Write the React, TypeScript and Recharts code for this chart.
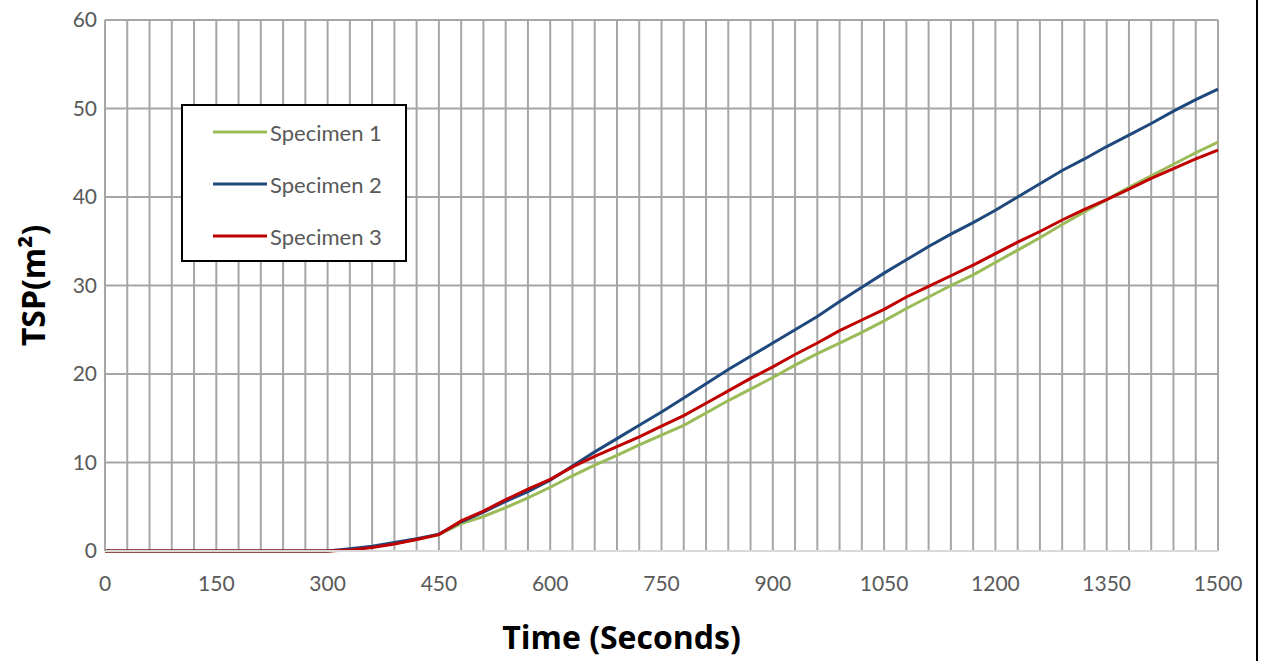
import React from 'react';
import { LineChart, Line, XAxis, YAxis, CartesianGrid, Legend } from 'recharts';

// time in seconds, one point every 30 s
const times = [
  0, 30, 60, 90, 120, 150, 180, 210, 240, 270, 300, 330, 360, 390, 420, 450, 480,
  510, 540, 570, 600, 630, 660, 690, 720, 750, 780, 810, 840, 870, 900, 930, 960,
  990, 1020, 1050, 1080, 1110, 1140, 1170, 1200, 1230, 1260, 1290, 1320, 1350,
  1380, 1410, 1440, 1470, 1500,
];

const specimen1 = [
  0, 0, 0, 0, 0, 0, 0, 0, 0, 0, 0, 0.15, 0.45, 0.85, 1.3, 1.85, 3.1, 3.9, 4.9, 6.0,
  7.2, 8.5, 9.7, 10.8, 12.0, 13.1, 14.2, 15.6, 17.0, 18.3, 19.6, 21.0, 22.3, 23.5,
  24.7, 26.0, 27.4, 28.7, 30.0, 31.2, 32.6, 34.0, 35.4, 36.9, 38.3, 39.7, 41.1,
  42.4, 43.7, 45.0, 46.2,
];

const specimen2 = [
  0, 0, 0, 0, 0, 0, 0, 0, 0, 0, 0, 0.25, 0.55, 0.95, 1.4, 1.9, 3.3, 4.4, 5.6, 6.7,
  8.0, 9.6, 11.2, 12.7, 14.2, 15.7, 17.3, 18.9, 20.5, 22.0, 23.5, 25.0, 26.5, 28.2,
  29.8, 31.4, 32.9, 34.4, 35.8, 37.1, 38.5, 40.0, 41.5, 43.0, 44.3, 45.7, 47.0,
  48.3, 49.7, 51.0, 52.2,
];

const specimen3 = [
  0, 0, 0, 0, 0, 0, 0, 0, 0, 0, 0, 0.1, 0.4, 0.8, 1.3, 1.85, 3.4, 4.5, 5.8, 7.0,
  8.1, 9.5, 10.7, 11.8, 12.9, 14.1, 15.3, 16.7, 18.1, 19.5, 20.8, 22.2, 23.5, 24.9,
  26.1, 27.3, 28.7, 29.9, 31.1, 32.3, 33.6, 34.9, 36.1, 37.4, 38.6, 39.7, 40.9,
  42.1, 43.2, 44.3, 45.3,
];

const yTicks = [0, 10, 20, 30, 40, 50, 60];

const data = times.map((t, i) => ({
  time: t,
  s1: specimen1[i],
  s2: specimen2[i],
  s3: specimen3[i],
}));

const FONT = 'Lato, "Open Sans", sans-serif';
const LABEL_FONT = '"Open Sans", Lato, sans-serif';
const tickStyle = { fill: '#595959', fontSize: 21, fontFamily: FONT };
const labelStyle = { fill: '#000', fontSize: 32, fontWeight: 700, fontFamily: LABEL_FONT };

const renderLegend = (props: any) => {
  const { payload } = props;
  return (
    <div
      style={{
        width: 226,
        height: 158,
        border: '2px solid #000',
        background: '#fff',
        fontFamily: FONT,
        fontSize: 22,
        color: '#595959',
        boxSizing: 'border-box',
      }}
    >
      {payload.map((entry: any) => (
        <div
          key={entry.value}
          style={{ display: 'flex', alignItems: 'center', height: 52, marginLeft: 30 }}
        >
          <svg width={54} height={6} style={{ marginRight: 3 }}>
            <line x1={0} y1={3} x2={54} y2={3} stroke={entry.color} strokeWidth={3} />
          </svg>
          <span>{entry.value}</span>
        </div>
      ))}
    </div>
  );
};

const App: React.FC = () => {
  return (
    <div style={{ position: 'absolute', left: 0, top: 0, width: 1263, height: 661, background: '#fff' }}>
      <LineChart
        width={1263}
        height={661}
        data={data}
        margin={{ top: 20, right: 45, bottom: 0, left: 0 }}
      >
        <CartesianGrid stroke="#a6a6a6" strokeWidth={2} />
        <XAxis
          dataKey="time"
          type="number"
          domain={[0, 1500]}
          ticks={times}
          interval={0}
          tickFormatter={(v: number) => (v % 150 === 0 ? String(v) : '')}
          tick={tickStyle}
          tickLine={false}
          tickMargin={19}
          axisLine={{ stroke: '#d9d9d9', strokeWidth: 2 }}
          height={110}
          label={{
            value: 'Time (Seconds)',
            position: 'insideBottom',
            offset: 12,
            dx: -40,
            style: labelStyle,
          }}
        />
        <YAxis
          type="number"
          domain={[0, 60]}
          ticks={yTicks}
          interval={0}
          tick={tickStyle}
          tickLine={false}
          axisLine={{ stroke: '#a6a6a6', strokeWidth: 2 }}
          width={105}
          label={{
            value: 'TSP(m²)',
            angle: -90,
            position: 'insideLeft',
            offset: 34,
            style: { ...labelStyle, textAnchor: 'middle' },
          }}
        />
        <Legend
          layout="vertical"
          align="center"
          verticalAlign="middle"
          content={renderLegend}
          wrapperStyle={{ left: 181, top: 104, width: 226, height: 158 }}
        />
        <Line type="linear" dataKey="s1" name="Specimen 1" stroke="#9bbb59" strokeWidth={3} dot={false} isAnimationActive={false} />
        <Line type="linear" dataKey="s2" name="Specimen 2" stroke="#1f497d" strokeWidth={3} dot={false} isAnimationActive={false} />
        <Line type="linear" dataKey="s3" name="Specimen 3" stroke="#c00000" strokeWidth={3} dot={false} isAnimationActive={false} />
      </LineChart>
      <div style={{ position: 'absolute', left: 1256, top: 0, width: 2, height: 661, background: '#000' }} />
    </div>
  );
};

export default App;
